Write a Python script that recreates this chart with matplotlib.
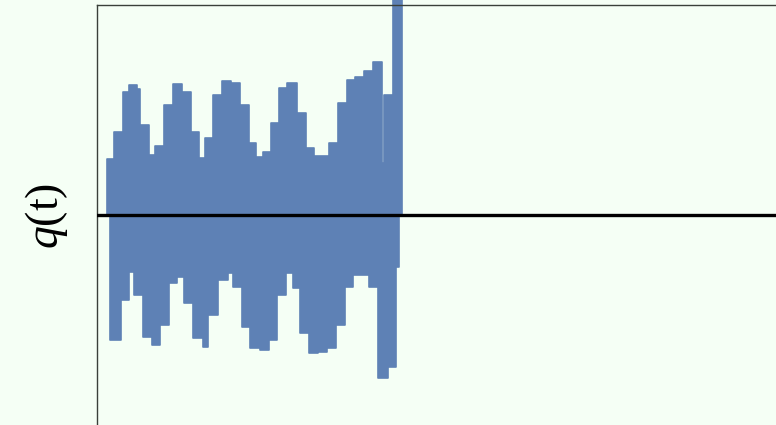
import matplotlib.pyplot as plt
import numpy as np

plt.rcParams['mathtext.fontset'] = 'custom'
plt.rcParams['mathtext.rm'] = 'Liberation Serif'
plt.rcParams['mathtext.it'] = 'Liberation Serif:italic'

# upper envelope of q(t): step start times and levels
t_up = [1.47, 2.50, 3.83, 4.71, 5.90, 6.33, 7.66, 8.54, 9.87, 11.19, 12.52, 13.84,
        15.02, 15.91, 17.08, 18.41, 19.73, 21.06, 22.39, 23.42, 24.45, 25.63, 26.80,
        28.0, 29.46, 30.78, 31.96, 34.17, 35.49, 36.82, 38.00, 39.32, 40.65, 41.97,
        42.20, 43.59, 44.92]
q_up = [0.267, 0.395, 0.586, 0.620, 0.600, 0.429, 0.286, 0.329, 0.524, 0.624, 0.586, 0.395,
        0.271, 0.367, 0.571, 0.638, 0.629, 0.524, 0.343, 0.276, 0.300, 0.438, 0.605,
        0.629, 0.486, 0.319, 0.281, 0.343, 0.533, 0.643, 0.657, 0.686, 0.729, 0.248,
        0.571, 1.5, 1.5]

# lower envelope of q(t)
t_lo = [1.91, 3.53, 4.71, 5.45, 6.77, 8.10, 9.28, 10.60, 11.78, 12.81, 14.14, 15.61,
        16.35, 17.82, 19.29, 20.03, 21.35, 22.53, 24.01, 25.33, 26.51, 27.84, 28.87,
        29.90, 31.22, 32.55, 33.87, 35.20, 36.52, 37.70, 40.06, 41.38, 42.86, 44.04,
        44.48]
q_lo = [-0.595, -0.405, -0.271, -0.381, -0.581, -0.619, -0.524, -0.324, -0.295, -0.419,
        -0.586, -0.629, -0.476, -0.310, -0.276, -0.343, -0.533, -0.633, -0.643, -0.595,
        -0.381, -0.276, -0.348, -0.562, -0.657, -0.652, -0.633, -0.524, -0.343, -0.286,
        -0.343, -0.776, -0.724, -0.248, -0.248]

bg = '#f5fff5'
blue = '#5e81b5'

fig = plt.figure(figsize=(7.76, 4.25), dpi=100, facecolor=bg)
ax = fig.add_axes([97 / 776, 0, 700 / 776, 420 / 425], facecolor=bg)

ax.fill_between(t_up, 0, q_up, step='post', color=blue, lw=1.2, clip_on=False)
ax.fill_between(t_lo, q_lo, 0, step='post', color=blue, lw=1.2)
ax.axhline(0, color='black', lw=2.4, zorder=5)

ax.set_xlim(0, 103)
ax.set_ylim(-1, 1)
ax.set_xticks([])
ax.set_yticks([])
for s in ['right', 'bottom']:
    ax.spines[s].set_visible(False)
for s in ['left', 'top']:
    ax.spines[s].set_color('#3a403a')
    ax.spines[s].set_linewidth(1.0)

fig.text(47 / 776, 1 - 216 / 425, r'$q(\mathrm{t})$', rotation=90,
         ha='center', va='center', fontsize=33)

fig.savefig('out.png', dpi=100, facecolor=bg)
